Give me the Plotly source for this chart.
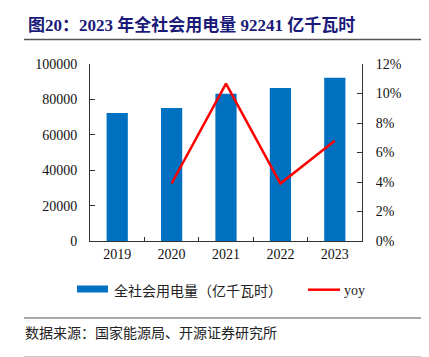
import plotly.graph_objects as go

years = ["2019", "2020", "2021", "2022", "2023"]
consumption = [72255, 75110, 83128, 86372, 92241]
yoy_years = ["2020", "2021", "2022", "2023"]
yoy = [0.039, 0.1067, 0.039, 0.068]

W, H = 429, 357
L, R, T, B = 82, 354, 56, 233

def px(x):
    return (x - L) / (R - L)

def py(y):
    return (B - y) / (B - T)

SERIF = "Liberation Serif, Times New Roman, serif"
CJK = "Noto Sans CJK SC, sans-serif"

fig = go.Figure()
fig.add_trace(go.Bar(x=years, y=consumption, marker=dict(color="#0070c0", line=dict(width=0)),
                     name="全社会用电量（亿千瓦时）", yaxis="y"))
fig.add_trace(go.Scatter(x=yoy_years, y=yoy, mode="lines", line=dict(color="#ff0000", width=2.5),
                         name="yoy", yaxis="y2"))

axis_common = dict(showline=True, linecolor="#333333", linewidth=1, ticks="inside", ticklen=5,
                   tickcolor="#333333", showgrid=False, zeroline=False,
                   tickfont=dict(family=SERIF, size=14, color="#111111"))

fig.update_layout(
    width=W, height=H,
    margin=dict(l=L, r=W - R, t=T, b=H - B),
    paper_bgcolor="white", plot_bgcolor="white",
    showlegend=False,
    bargap=0.61,
    xaxis=dict(type="category", tickson="boundaries", ticklabelstandoff=0, **{**axis_common, "ticklen": 4}),
    yaxis=dict(range=[0, 100000], dtick=20000, tickformat="d", ticklabelstandoff=9, **axis_common),
    yaxis2=dict(range=[0, 0.12], dtick=0.02, tickformat=".0%", overlaying="y", side="right",
                ticklabelstandoff=10, **axis_common),
)

shapes = []
shapes.append(dict(type="line", xref="paper", yref="paper", x0=px(16), x1=px(429), y0=py(31.5), y1=py(31.5),
                   line=dict(color="#555555", width=1.5)))
shapes.append(dict(type="line", xref="paper", yref="paper", x0=px(16), x1=px(429), y0=py(310), y1=py(310),
                   line=dict(color="#555555", width=1.2)))
shapes.append(dict(type="line", xref="paper", yref="paper", x0=px(16), x1=px(429), y0=py(349.5), y1=py(349.5),
                   line=dict(color="#333333", width=1.5)))
shapes.append(dict(type="rect", xref="paper", yref="paper", x0=px(69), x1=px(100), y0=py(284.5), y1=py(277.5),
                   fillcolor="#0070c0", line=dict(width=0)))
shapes.append(dict(type="line", xref="paper", yref="paper", x0=px(300), x1=px(332), y0=py(281.7), y1=py(281.7),
                   line=dict(color="#ff0000", width=2.5)))
fig.update_layout(shapes=shapes)

ann = []
ann.append(dict(text="<b>图20：2023 年全社会用电量 92241 亿千瓦时</b>", xref="paper", yref="paper",
                x=px(18), y=py(17), xanchor="left", yanchor="middle", showarrow=False,
                font=dict(family="Liberation Serif, Noto Sans CJK SC", size=17, color="#1a1a78")))
ann.append(dict(text="全社会用电量（亿千瓦时）", xref="paper", yref="paper",
                x=px(104), y=py(281.5), xanchor="left", yanchor="middle", showarrow=False,
                font=dict(family=CJK, size=14, color="#222222")))
ann.append(dict(text="yoy", xref="paper", yref="paper",
                x=px(334), y=py(282.5), xanchor="left", yanchor="middle", showarrow=False,
                font=dict(family=SERIF, size=14, color="#222222")))
ann.append(dict(text="数据来源：国家能源局、开源证券研究所", xref="paper", yref="paper",
                x=px(15), y=py(323.5), xanchor="left", yanchor="middle", showarrow=False,
                font=dict(family=CJK, size=14, color="#222222")))
ann.append(dict(text="请务必参阅正文后面的信息披露和法律声明", xref="paper", yref="paper",
                x=px(15), y=py(363), xanchor="left", yanchor="middle", showarrow=False,
                font=dict(family=CJK, size=15, color="#222222")))
fig.update_layout(annotations=ann)

fig.write_html("out.html")
